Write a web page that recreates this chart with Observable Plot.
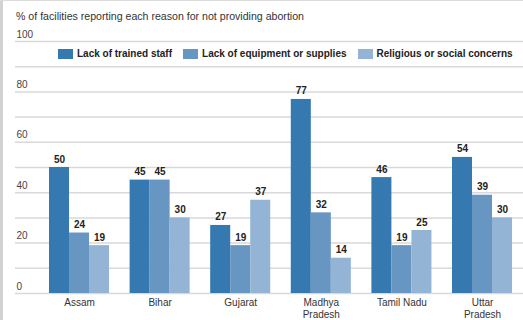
<!DOCTYPE html>
<html>
<head>
<meta charset="utf-8">
<script src="https://cdn.jsdelivr.net/npm/d3@7"></script>
<script src="https://cdn.jsdelivr.net/npm/@observablehq/plot@0.6"></script>
<style>
  html, body { margin: 0; padding: 0; background: #fff; }
  body { width: 523px; height: 320px; overflow: hidden; position: relative; font-family: "Liberation Sans", Arial, sans-serif; }
  #borderLeft { position: absolute; left: 0; top: 0; width: 3px; height: 320px; background: #d2d2d2; z-index: 5; }
  #borderTop { position: absolute; left: 0; top: 0; width: 523px; height: 1px; background: #dcdcdc; z-index: 5; }
  #title { height: 26px; line-height: 32px; padding-left: 16px; font-size: 10.6px; color: #333; white-space: nowrap; }
  #legend { position: absolute; top: 48px; left: 58px; display: flex; align-items: center; font-size: 10px; font-weight: bold; color: #222; white-space: nowrap; z-index: 4; }
  #legend .item { display: flex; align-items: center; margin-right: 11px; }
  #legend .sw { width: 15px; height: 10px; margin-right: 4px; }
  #chart { position: relative; width: 523px; height: 294px; }
  #chart svg { display: block; position: absolute; left: 0; top: 0; overflow: visible; }
</style>
</head>
<body>
<div id="borderLeft"></div>
<div id="borderTop"></div>
<div id="title">% of facilities reporting each reason for not providing abortion</div>
<div id="chart"></div>
<div id="legend"></div>
<script>
const states = ["Assam", "Bihar", "Gujarat", "Madhya Pradesh", "Tamil Nadu", "Uttar Pradesh"];
const stateLabels = ["Assam", "Bihar", "Gujarat", "Madhya\nPradesh", "Tamil Nadu", "Uttar\nPradesh"];
const series = ["Lack of trained staff", "Lack of equipment or supplies", "Religious or social concerns"];
const trainedStaff = [50, 45, 27, 77, 46, 54];
const equipmentSupplies = [24, 45, 19, 32, 19, 39];
const religiousSocial = [19, 30, 37, 14, 25, 30];
const yTicks = [0, 20, 40, 60, 80, 100];
const gridTicks = [0, 10, 20, 30, 40, 50, 60, 70, 80, 90, 100];
const colors = ["#3679b0", "#6796c2", "#94b4d5"];

const seriesValues = [trainedStaff, equipmentSupplies, religiousSocial];
const data = [];
states.forEach((s, i) => {
  series.forEach((k, j) => {
    data.push({state: s, series: k, value: seriesValues[j][i]});
  });
});
const labelOf = new Map(states.map((s, i) => [s, stateLabels[i]]));

const common = {
  width: 523,
  height: 294,
  marginTop: 15,
  marginBottom: 27,
  marginLeft: 15,
  marginRight: 0,
  style: {fontFamily: "'Liberation Sans', Arial, sans-serif", fontSize: "10px", background: "transparent"},
  y: {domain: [0, 100], axis: null}
};

// Background: gridlines and y tick labels spanning the whole frame
const background = Plot.plot({
  ...common,
  x: {axis: null},
  marks: [
    Plot.ruleY(gridTicks, {y: d => d, stroke: "#d9d9d9", strokeWidth: 1.5}),
    Plot.text(yTicks, {y: d => d, text: d => String(d), frameAnchor: "left", textAnchor: "start", lineAnchor: "bottom", dx: 1, dy: -4, fill: "#444"})
  ]
});

// Foreground: grouped bars via fx facets
const foreground = Plot.plot({
  ...common,
  fx: {domain: states, paddingInner: 0.255, paddingOuter: 0.279, align: 0.756, round: false, axis: null},
  x: {domain: series, padding: 0, round: false, axis: null},
  color: {domain: series, range: colors},
  marks: [
    Plot.barY(data, {fx: "state", x: "series", y: "value", fill: "series"}),
    Plot.text(data, {fx: "state", x: "series", y: "value", text: d => String(d.value), lineAnchor: "bottom", dy: -5, fontWeight: "bold", fill: "#222"}),
    Plot.text(states, {fx: d => d, text: d => labelOf.get(d), frameAnchor: "bottom", lineAnchor: "top", dy: 4, lineHeight: 1.2, fill: "#333"})
  ]
});

const chartDiv = document.getElementById("chart");
chartDiv.appendChild(background);
chartDiv.appendChild(foreground);

const legend = document.getElementById("legend");
series.forEach((s, i) => {
  const item = document.createElement("div");
  item.className = "item";
  const sw = document.createElement("span");
  sw.className = "sw";
  sw.style.background = colors[i];
  const lab = document.createElement("span");
  lab.textContent = s;
  item.appendChild(sw);
  item.appendChild(lab);
  legend.appendChild(item);
});
</script>
</body>
</html>
